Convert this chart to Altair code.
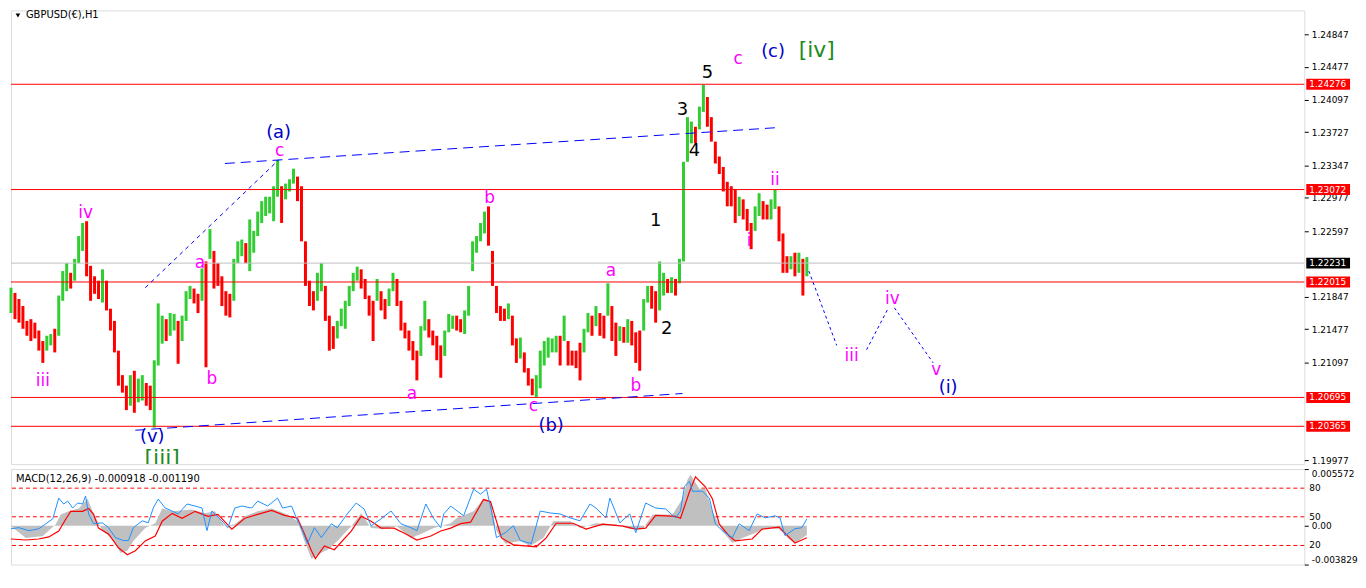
import json
import numpy as np
import pandas as pd
import altair as alt

FONT = "DejaVu Sans"

# ---------------- price bars (sampled every 4 hourly bars from 26 Sep 2023 00:00) ----------------
bar_step = 4
highs = [
    1.2195, 1.2189, 1.2182, 1.2174, 1.2157, 1.2159, 1.2155, 1.2146, 1.2134, 1.2140,
    1.2142, 1.2148, 1.2186, 1.2214, 1.2223, 1.2212, 1.2228, 1.2254, 1.2269, 1.2271,
    1.2220, 1.2208, 1.2203, 1.2216, 1.2203, 1.2171, 1.2157, 1.2123, 1.2095, 1.2083,
    1.2095, 1.2100, 1.2091, 1.2095, 1.2086, 1.2083, 1.2112, 1.2177, 1.2163, 1.2159,
    1.2166, 1.2165, 1.2157, 1.2163, 1.2191, 1.2197, 1.2194, 1.2188, 1.2217, 1.2225,
    1.2262, 1.2237, 1.2223, 1.2208, 1.2191, 1.2188, 1.2228, 1.2248, 1.2250, 1.2246,
    1.2273, 1.2260, 1.2282, 1.2294, 1.2299, 1.2299, 1.2311, 1.2341, 1.2311, 1.2314,
    1.2319, 1.2331, 1.2322, 1.2311, 1.2248, 1.2203, 1.2191, 1.2212, 1.2223, 1.2197,
    1.2163, 1.2151, 1.2157, 1.2171, 1.2180, 1.2197, 1.2212, 1.2219, 1.2216, 1.2205,
    1.2186, 1.2180, 1.2205, 1.2191, 1.2182, 1.2194, 1.2212, 1.2205, 1.2180, 1.2155,
    1.2146, 1.2134, 1.2123, 1.2151, 1.2180, 1.2159, 1.2146, 1.2140, 1.2129, 1.2146,
    1.2165, 1.2163, 1.2163, 1.2159, 1.2169, 1.2197, 1.2248, 1.2254, 1.2269, 1.2282,
    1.2288, 1.2237, 1.2197, 1.2174, 1.2171, 1.2177, 1.2163, 1.2137, 1.2138, 1.2121,
    1.2103, 1.2091, 1.2095, 1.2123, 1.2134, 1.2138, 1.2137, 1.2140, 1.2140, 1.2163,
    1.2134, 1.2123, 1.2123, 1.2132, 1.2148, 1.2166, 1.2163, 1.2174, 1.2166, 1.2163,
    1.2200, 1.2174, 1.2155, 1.2151, 1.2150, 1.2159, 1.2157, 1.2144, 1.2146, 1.2182,
    1.2197, 1.2197, 1.2191, 1.2225, 1.2212, 1.2205, 1.2207, 1.2205, 1.2228, 1.2339,
    1.2390, 1.2385, 1.2379, 1.2402, 1.2427, 1.2413, 1.2390, 1.2362, 1.2345, 1.2333,
    1.2316, 1.2311, 1.2307, 1.2299, 1.2296, 1.2285, 1.2269, 1.2288, 1.2303, 1.2294,
    1.2290, 1.2296, 1.2307, 1.2288, 1.2257, 1.2231, 1.2231, 1.2235, 1.2235, 1.2228,
    1.2230,
]
lows = [
    1.2166, 1.2159, 1.2155, 1.2148, 1.2140, 1.2134, 1.2137, 1.2123, 1.2109, 1.2123,
    1.2129, 1.2121, 1.2140, 1.2180, 1.2191, 1.2194, 1.2203, 1.2223, 1.2237, 1.2208,
    1.2180, 1.2188, 1.2182, 1.2178, 1.2169, 1.2146, 1.2121, 1.2083, 1.2075, 1.2055,
    1.2060, 1.2052, 1.2064, 1.2066, 1.2060, 1.2055, 1.2035, 1.2106, 1.2131, 1.2134,
    1.2140, 1.2146, 1.2108, 1.2134, 1.2157, 1.2182, 1.2177, 1.2166, 1.2180, 1.2104,
    1.2228, 1.2194, 1.2197, 1.2174, 1.2163, 1.2161, 1.2180, 1.2223, 1.2231, 1.2223,
    1.2214, 1.2235, 1.2254, 1.2269, 1.2277, 1.2280, 1.2271, 1.2299, 1.2269, 1.2296,
    1.2305, 1.2314, 1.2294, 1.2248, 1.2197, 1.2174, 1.2169, 1.2180, 1.2191, 1.2157,
    1.2123, 1.2125, 1.2137, 1.2151, 1.2148, 1.2174, 1.2191, 1.2203, 1.2194, 1.2182,
    1.2163, 1.2134, 1.2180, 1.2169, 1.2159, 1.2174, 1.2191, 1.2174, 1.2146, 1.2137,
    1.2123, 1.2112, 1.2089, 1.2117, 1.2146, 1.2138, 1.2129, 1.2112, 1.2092, 1.2117,
    1.2144, 1.2148, 1.2146, 1.2144, 1.2142, 1.2163, 1.2214, 1.2235, 1.2248, 1.2257,
    1.2243, 1.2197, 1.2166, 1.2157, 1.2157, 1.2159, 1.2129, 1.2109, 1.2114, 1.2098,
    1.2083, 1.2072, 1.2070, 1.2080, 1.2106, 1.2115, 1.2121, 1.2121, 1.2106, 1.2134,
    1.2106, 1.2106, 1.2103, 1.2089, 1.2121, 1.2144, 1.2140, 1.2151, 1.2140, 1.2137,
    1.2163, 1.2134, 1.2117, 1.2134, 1.2132, 1.2132, 1.2129, 1.2109, 1.2100, 1.2146,
    1.2178, 1.2171, 1.2155, 1.2169, 1.2186, 1.2189, 1.2189, 1.2186, 1.2200, 1.2225,
    1.2339, 1.2360, 1.2360, 1.2376, 1.2396, 1.2379, 1.2362, 1.2337, 1.2325, 1.2305,
    1.2288, 1.2288, 1.2269, 1.2277, 1.2273, 1.2260, 1.2239, 1.2260, 1.2277, 1.2273,
    1.2273, 1.2273, 1.2285, 1.2248, 1.2212, 1.2212, 1.2216, 1.2208, 1.2212, 1.2186,
    1.2208,
]

# ---------------- horizontal levels ----------------
level_prices = [1.24276, 1.23072, 1.22015, 1.20695, 1.20365]
level_labels = ["1.24276", "1.23072", "1.22015", "1.20695", "1.20365"]
last_price = [1.22231]
last_label = ["1.22231"]
price_ticks = [1.24847, 1.24477, 1.24097, 1.23727, 1.23347, 1.22977, 1.22597,
               1.21847, 1.21477, 1.21097, 1.19977]

# ---------------- time axis ----------------
tick_hours = [0, 64, 128, 192, 256, 320, 384, 448, 512, 576, 640, 704, 768]
tick_labels = ["26 Sep 2023", "29 Sep 01:00", "3 Oct 17:00", "6 Oct 09:00", "11 Oct 01:00",
               "13 Oct 17:00", "18 Oct 09:00", "23 Oct 01:00", "25 Oct 17:00", "30 Oct 09:00",
               "2 Nov 01:00", "6 Nov 18:00", "9 Nov 10:00"]

# ---------------- trend / projection lines ----------------
line_seg = ["up", "up", "low", "low", "wa", "wa", "p1", "p1", "p2", "p2", "p3", "p3"]
line_style = ["channel", "channel", "channel", "channel", "wave", "wave",
              "proj", "proj", "proj", "proj", "proj", "proj"]
line_hour = [215, 770, 125, 675, 135, 269, 802, 830, 860, 882, 888, 927]
line_price = [1.2337, 1.2378, 1.2032, 1.2074, 1.2195, 1.2341,
              1.2214, 1.2129, 1.2124, 1.2172, 1.2172, 1.2109]

# ---------------- wave labels ----------------
lbl_text = ["iii", "iv", "a", "b", "c", "a", "b", "c", "a", "b", "c", "i", "ii", "iii", "iv", "v",
            "(a)", "(v)", "(b)", "(c)", "(i)", "[iii]", "[iv]", "1", "2", "3", "4", "5"]
lbl_hour = [32, 75, 190, 202, 270, 403, 481, 525, 603, 628, 731, 742, 768, 845, 886, 930,
            269, 142, 543, 766, 942, 152, 810, 648, 659, 675, 687, 700]
lbl_price = [1.2088, 1.2280, 1.2223, 1.2090, 1.2351, 1.2073, 1.2297, 1.2060, 1.2214, 1.2083,
             1.2457, 1.2248, 1.2318, 1.2117, 1.2182, 1.2101,
             1.2372, 1.2024, 1.2037, 1.2464, 1.2080, 1.2000, 1.2467,
             1.2271, 1.2148, 1.2398, 1.2351, 1.2441]
lbl_kind = ["minor"] * 16 + ["inter"] * 5 + ["major"] * 2 + ["sub"] * 5

# ---------------- MACD panel ----------------
hist_hours = [0, 15, 32, 45, 50, 58, 68, 77, 82, 92, 102, 110, 117, 123, 135, 145, 152, 162, 182, 195,
              205, 215, 225, 235, 248, 262, 278, 288, 295, 302, 310, 320, 328, 342, 352, 362, 375, 388,
              402, 412, 425, 442, 448, 465, 475, 482, 488, 497, 512, 522, 535, 545, 562, 572, 588, 608,
              622, 635, 645, 665, 675, 680, 683, 692, 698, 705, 715, 725, 735, 748, 758, 772, 782, 788, 800]
hist_vals = [-0.00005, -0.00121, -0.00102, 0.00015, 0.00111, 0.00141, 0.00170, 0.00266, 0.00141, -0.00053,
             -0.00131, -0.00266, -0.00247, -0.00150, -0.00024, 0.00024, 0.00170, 0.00141, 0.00160, 0.00121,
             0.00141, -0.00005, 0.00015, 0.00092, 0.00141, 0.00170, 0.00111, 0.00044, -0.00150, -0.00325,
             -0.00276, -0.00228, -0.00150, -0.00005, 0.00121, -0.00024, -0.00034, -0.00005, -0.00121, -0.00082,
             -0.00024, 0.00024, 0.00073, 0.00141, 0.00266, 0.00237, -0.00053, -0.00179, -0.00150, -0.00199,
             -0.00121, 0.00044, 0.00044, -0.00024, 0.00024, 0.00015, -0.00034, -0.00034, 0.00111, 0.00111,
             0.00266, 0.00451, 0.00500, 0.00363, 0.00363, 0.00141, -0.00053, -0.00170, -0.00121, -0.00073,
             -0.00024, -0.00034, -0.00131, -0.00170, -0.00092]
sig_hours = [0, 15, 28, 38, 48, 55, 60, 72, 78, 83, 88, 98, 108, 117, 125, 135, 145, 152, 162, 172,
             185, 198, 208, 222, 235, 248, 262, 275, 288, 295, 302, 306, 315, 325, 342, 352, 362, 372,
             385, 395, 408, 422, 432, 442, 452, 462, 475, 482, 488, 493, 505, 528, 538, 548, 565, 578,
             595, 615, 628, 638, 648, 668, 673, 682, 688, 698, 705, 712, 722, 728, 745, 755, 772, 778, 788, 800]
sig_vals = [-0.00131, -0.00141, -0.00131, -0.00111, -0.00053, 0.00063, 0.00141, 0.00141, 0.00170, 0.00111,
            -0.00024, -0.00082, -0.00218, -0.00286, -0.00247, -0.00150, -0.00102, 0.00044, 0.00121, 0.00073,
            0.00141, 0.00092, 0.00111, -0.00034, 0.00073, 0.00111, 0.00150, 0.00102, 0.00073, -0.00082,
            -0.00247, -0.00325, -0.00199, -0.00237, -0.00053, 0.00092, 0.00044, -0.00024, -0.00024, -0.00073,
            -0.00141, -0.00102, -0.00053, -0.00024, 0.00020, 0.00034, 0.00257, 0.00237, 0.00044, -0.00121,
            -0.00189, -0.00208, -0.00121, 0.00024, 0.00024, -0.00034, 0.00015, -0.00005, -0.00034, -0.00024,
            0.00102, 0.00092, 0.00073, 0.00334, 0.00480, 0.00383, 0.00266, 0.00015, -0.00102, -0.00150,
            -0.00131, -0.00034, -0.00015, -0.00073, -0.00170, -0.00119]
osc_hours = [0, 8, 18, 28, 35, 42, 48, 53, 57, 62, 67, 72, 75, 78, 83, 92, 98, 105, 113, 118,
             123, 132, 138, 143, 148, 155, 162, 168, 177, 185, 192, 197, 202, 212, 218, 225, 232, 242,
             248, 258, 268, 273, 282, 288, 293, 298, 305, 312, 322, 328, 338, 347, 355, 362, 372, 382,
             392, 402, 408, 417, 425, 432, 435, 442, 455, 465, 472, 478, 483, 488, 497, 505, 512, 523,
             532, 542, 552, 562, 572, 582, 588, 598, 602, 612, 622, 628, 638, 648, 658, 668, 673, 677,
             682, 685, 695, 702, 708, 715, 725, 732, 742, 750, 758, 768, 773, 778, 788, 795, 800]
osc_vals = [37.5, 38.6, 35.5, 37.5, 42.7, 47.9, 69.6, 63.4, 66.5, 59.2, 64.4, 63.4, 71.7, 53.0, 42.7, 43.7,
            38.6, 28.2, 25.1, 25.1, 38.6, 45.8, 43.7, 59.2, 68.6, 59.2, 56.1, 53.0, 63.4, 61.3, 59.2, 35.5,
            56.1, 45.8, 38.6, 59.2, 61.3, 59.2, 66.5, 61.3, 69.6, 59.2, 61.3, 45.8, 35.5, 22.1, 38.6, 28.2,
            42.7, 38.6, 53.0, 64.4, 58.2, 40.6, 47.9, 56.1, 42.7, 38.6, 35.5, 63.4, 47.9, 38.6, 53.0, 61.3,
            51.0, 78.9, 73.7, 78.9, 56.1, 28.2, 33.4, 40.6, 25.1, 22.1, 56.1, 54.0, 53.0, 48.9, 45.8, 63.4,
            59.2, 48.9, 69.6, 43.7, 53.0, 33.4, 64.4, 59.2, 58.2, 48.9, 56.1, 82.0, 87.2, 76.8, 76.8, 69.6,
            42.7, 35.5, 28.2, 42.7, 35.5, 53.0, 48.9, 51.0, 48.9, 30.3, 37.5, 38.6, 47.9]
osc_levels = [80, 50, 20]
osc_level_labels = ["80", "50", "20"]
macd_ticks = [0.005572, 0.0, -0.003829]

# ---------------- layout ----------------
W = 1300
H_MAIN = 456
H_MACD = 96

x_scale = alt.Scale(domain=[0, 1300], nice=False, zero=False)
y_scale = alt.Scale(domain=[1.19933, 1.25120], nice=False, zero=False)
y_axis = alt.Axis(orient="right", values=price_ticks, format=".5f", labelFont=FONT, labelFontSize=9,
                  labelColor="black", tickColor="black", tickSize=4, labelPadding=3, domain=False,
                  grid=False, title=None, labelOverlap=False)


def X(f):
    return alt.X(f, type="quantitative", scale=x_scale, axis=None)


def Y(f):
    return alt.Y(f, type="quantitative", scale=y_scale, axis=y_axis)


bars = pd.DataFrame({"hour": [i * bar_step for i in range(len(highs))], "hi": highs, "lo": lows})
mid = (bars["hi"] + bars["lo"]) / 2
bars["dir"] = np.where(mid.diff().fillna(0) >= 0, "up", "down")

candles = alt.Chart(bars).mark_rule(strokeWidth=3).encode(
    x=X("hour"), y=Y("lo"), y2="hi",
    color=alt.Color("dir:N", scale=alt.Scale(domain=["up", "down"], range=["#32CD32", "#FF0000"]), legend=None),
)

levels_df = pd.DataFrame({"level": level_prices, "label": level_labels})
last_df = pd.DataFrame({"level": last_price, "label": last_label})

level_rules = alt.Chart(levels_df).mark_rule(color="#FF0000", strokeWidth=1).encode(y=Y("level"))
last_rule = alt.Chart(last_df).mark_rule(color="#C0C0C0", strokeWidth=1).encode(y=Y("level"))

lines_df = pd.DataFrame({"seg": line_seg, "style": line_style, "hour": line_hour, "price": line_price})
dash = {"channel": [10, 6], "wave": [4, 4], "proj": [3, 3]}
line_layers = []
for st, d in dash.items():
    line_layers.append(
        alt.Chart(lines_df[lines_df["style"] == st]).mark_line(color="#0000FF", strokeWidth=1, strokeDash=d)
        .encode(x=X("hour"), y=Y("price"), detail="seg:N")
    )

lbl_df = pd.DataFrame({"text": lbl_text, "hour": lbl_hour, "price": lbl_price, "kind": lbl_kind})
kind_style = {"minor": ("#FF00FF", 17), "inter": ("#0000CD", 18), "major": ("#1E8B1E", 22), "sub": ("#000000", 18)}
label_layers = []
for k, (c, s) in kind_style.items():
    label_layers.append(
        alt.Chart(lbl_df[lbl_df["kind"] == k]).mark_text(font=FONT, fontSize=s, color=c, align="center",
                                                          baseline="middle", clip=True)
        .encode(x=X("hour"), y=Y("price"), text="text:N")
    )

box_rules = alt.Chart(levels_df).mark_rule(color="#FF0000", strokeWidth=11).encode(
    x=alt.value(W + 2), x2=alt.value(W + 46), y=Y("level"))
box_text = alt.Chart(levels_df).mark_text(color="white", font=FONT, fontSize=9, align="left", baseline="middle").encode(
    x=alt.value(W + 5), y=Y("level"), text="label:N")
last_box = alt.Chart(last_df).mark_rule(color="#000000", strokeWidth=11).encode(
    x=alt.value(W + 2), x2=alt.value(W + 46), y=Y("level"))
last_text = alt.Chart(last_df).mark_text(color="white", font=FONT, fontSize=9, align="left", baseline="middle").encode(
    x=alt.value(W + 5), y=Y("level"), text="label:N")

title_df = pd.DataFrame({"t": ["GBPUSD(€),H1"]})
title_tri = alt.Chart(title_df).mark_point(shape="triangle-down", filled=True, color="black", size=22, opacity=1).encode(
    x=alt.value(7), y=alt.value(5))
title_txt = alt.Chart(title_df).mark_text(font=FONT, fontSize=10, align="left", baseline="middle", color="black").encode(
    x=alt.value(15), y=alt.value(5), text="t:N")

main = alt.layer(candles, level_rules, last_rule, *line_layers, *label_layers,
                 box_rules, box_text, last_box, last_text, title_tri, title_txt).properties(width=W, height=H_MAIN)

# ---------------- MACD panel ----------------
x_expr = f"{json.dumps(tick_labels)}[indexof({json.dumps(tick_hours)}, datum.value)]"
x_axis = alt.Axis(values=tick_hours, labelExpr=x_expr, labelAlign="left", labelFont=FONT, labelFontSize=9,
                  labelColor="black", tickColor="black", tickSize=3, labelPadding=1, domain=False, grid=False,
                  title=None, labelOverlap=False, labelFlush=False)
m_scale = alt.Scale(domain=[-0.003829, 0.005572], nice=False, zero=False)
m_axis = alt.Axis(orient="right", values=macd_ticks,
                  labelExpr="datum.value == 0 ? '0.00' : (datum.value < 0 ? '-' + format(-datum.value, '.6f') : format(datum.value, '.6f'))",
                  labelFlush=True, labelFont=FONT, labelFontSize=9, labelColor="black", tickColor="black",
                  tickSize=4, labelPadding=3, domain=False, grid=False, title=None, labelOverlap=False)
o_scale = alt.Scale(domain=[0, 100], nice=False, zero=False)

hist_df = pd.DataFrame({"hour": hist_hours, "v": hist_vals})
sig_df = pd.DataFrame({"hour": sig_hours, "v": sig_vals})
osc_df = pd.DataFrame({"hour": osc_hours, "v": osc_vals})
olev_df = pd.DataFrame({"lvl": osc_levels, "label": osc_level_labels})

hist_area = alt.Chart(hist_df).mark_area(color="#C0C0C0", opacity=1).encode(
    x=alt.X("hour:Q", scale=x_scale, axis=x_axis),
    y=alt.Y("v:Q", scale=m_scale, axis=m_axis), y2=alt.datum(0))
sig_line = alt.Chart(sig_df).mark_line(color="#FF0000", strokeWidth=1.2).encode(
    x=alt.X("hour:Q", scale=x_scale, axis=None), y=alt.Y("v:Q", scale=m_scale, axis=None))
olev_rules = alt.Chart(olev_df).mark_rule(color="#FF0000", strokeDash=[4, 3], strokeWidth=1).encode(
    y=alt.Y("lvl:Q", scale=o_scale, axis=None))
osc_line = alt.Chart(osc_df).mark_line(color="#1E90FF", strokeWidth=1).encode(
    x=alt.X("hour:Q", scale=x_scale, axis=None), y=alt.Y("v:Q", scale=o_scale, axis=None))
olev_text = alt.Chart(olev_df).mark_text(font=FONT, fontSize=9, align="left", baseline="middle", color="black").encode(
    x=alt.value(W + 5), y=alt.Y("lvl:Q", scale=o_scale, axis=None), text="label:N")
macd_title_df = pd.DataFrame({"t": ["MACD(12,26,9) -0.000918 -0.001190"]})
macd_title = alt.Chart(macd_title_df).mark_text(font=FONT, fontSize=10, align="left", baseline="middle", color="black").encode(
    x=alt.value(5), y=alt.value(10), text="t:N")

macd = alt.layer(olev_rules, hist_area, sig_line, osc_line, olev_text, macd_title).resolve_scale(
    y="independent").properties(width=W, height=H_MACD)

chart = alt.vconcat(main, macd, spacing=2).properties(padding=0).configure_view(
    stroke="black", strokeWidth=1).configure(background="white")

chart.save("out.html", embed_options={"renderer": "svg", "actions": False})
